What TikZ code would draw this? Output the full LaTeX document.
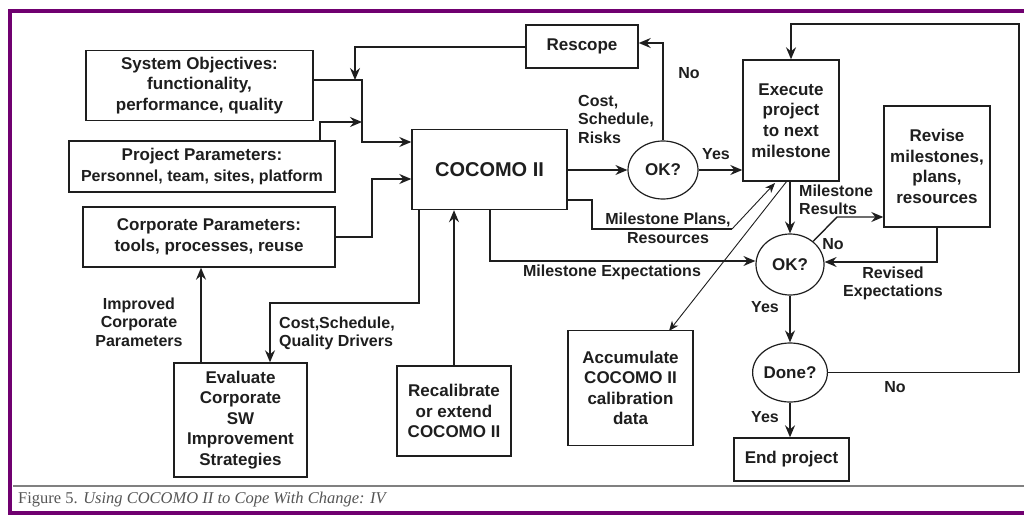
\documentclass[tikz,border=0pt]{standalone}
\usepackage{fontspec}
\setmainfont{Liberation Sans}
\newfontfamily\capfont{Liberation Serif}
\usetikzlibrary{arrows.meta,shapes.geometric}
\definecolor{frameclr}{RGB}{112,0,112}
\definecolor{ink}{RGB}{30,30,30}
\definecolor{capclr}{RGB}{85,85,85}
\begin{document}
\begin{tikzpicture}[x=1pt,y=-1pt,
  box/.style={draw=ink,line width=1.4pt,rectangle,inner sep=0pt,align=center,
    font=\fontsize{17}{20.6}\selectfont\bfseries,text=ink},
  oval/.style={draw=ink,line width=1.2pt,ellipse,inner sep=0pt,
    font=\fontsize{17}{20.6}\selectfont\bfseries,text=ink},
  wire/.style={draw=ink,line width=1.4pt},
  arr/.style={wire,-{Stealth[length=12pt,width=10pt,inset=4pt]}},
  thinarr/.style={draw=ink,line width=0.9pt,-{Stealth[length=10pt,width=8pt,inset=3pt]}},
  lab/.style={font=\fontsize{16}{18.5}\selectfont\bfseries,text=ink,inner sep=0pt}
]
\useasboundingbox (0,0) rectangle (1024,516);
% frame
\draw[frameclr,line width=4pt] (1030,11) -- (10,11) -- (10,513) -- (1030,513);
\draw[gray,line width=2pt] (13,486) -- (1024,486);
\node[anchor=base west,inner sep=0pt,text=capclr,font=\capfont\fontsize{16.5}{19}\selectfont] (cap) at (18,503)
  {Figure 5. \itshape Using COCOMO II to Cope With Change: IV};

% nodes
\node[box,minimum width=227pt,minimum height=70pt] (sysobj) at (199.5,85.5)
  {System Objectives:\\functionality,\\performance, quality};
\node[box,minimum width=266pt,minimum height=51pt] (projpar) at (202,166.5)
  {Project Parameters:\\{\fontsize{16}{20.6}\selectfont Personnel, team, sites, platform}};
\node[box,minimum width=252pt,minimum height=60pt] (corppar) at (209,237)
  {Corporate Parameters:\\tools, processes, reuse};
\node[box,minimum width=155pt,minimum height=80pt,font=\fontsize{20}{24}\selectfont\bfseries] (cocomo) at (489.5,169.5)
  {COCOMO II};
\node[box,minimum width=112pt,minimum height=43pt] (rescope) at (582,46.5) {Rescope};
\node[oval,minimum width=70pt,minimum height=58pt] (ok1) at (663,170) {OK?};
\node[box,minimum width=96pt,minimum height=121pt] (exec) at (791,120.5)
  {Execute\\project\\to next\\milestone};
\node[box,minimum width=106pt,minimum height=121pt] (revise) at (937,166.5)
  {Revise\\milestones,\\plans,\\resources};
\node[oval,minimum width=68pt,minimum height=61pt] (ok2) at (790,264.5) {OK?};
\node[oval,minimum width=68pt,minimum height=59pt] (done) at (790,372.5) {Done?};
\node[box,minimum width=115pt,minimum height=43pt] (endp) at (791.5,459.5) {End project};
\node[box,minimum width=125pt,minimum height=115pt] (accum) at (630.5,388)
  {Accumulate\\COCOMO II\\calibration\\data};
\node[box,minimum width=133pt,minimum height=114pt] (evalb) at (240.5,420)
  {Evaluate\\Corporate\\SW\\Improvement\\Strategies};
\node[box,minimum width=114pt,minimum height=90pt] (recal) at (454,411)
  {Recalibrate\\or extend\\COCOMO II};

% junction coordinates
\coordinate (jR) at (355,47);
\coordinate (jRend) at (355,80);
\coordinate (jA) at (362,80);
\coordinate (jB) at (362,142);
\coordinate (jP) at (320,122);
\coordinate (jC1) at (372,237);
\coordinate (jC2) at (372,179);
\coordinate (jD1) at (419,303);
\coordinate (jD2) at (270,303);
\coordinate (jE) at (201,320);
\coordinate (jM) at (490,261);
\coordinate (jN) at (664,43);
\coordinate (jL1) at (592,200);
\coordinate (jL2) at (592,229);
\coordinate (jL3) at (732,229);
\coordinate (jL4) at (775,183);
\coordinate (jX) at (787,181);
\coordinate (jY) at (669,331);
\coordinate (jV) at (837,217);
\coordinate (jW) at (937,262);
\coordinate (jT1) at (1019,372.5);
\coordinate (jT2) at (1019,24);

% connectors
\draw[arr] (rescope.west |- jR) -- (jR) -- (jRend);
\draw[arr] (sysobj.east |- jA) -- (jA) -- (jB) -- (jB -| cocomo.west);
\draw[arr] (projpar.north -| jP) -- (jP) -- (jP -| jA);
\draw[arr] (corppar.east |- jC1) -- (jC1) -- (jC2) -- (jC2 -| cocomo.west);
\draw[arr] (cocomo.south -| jD1) -- (jD1) -- (jD2) -- (jD2 |- evalb.north);
\draw[arr] (recal.north) -- (recal.north |- cocomo.south);
\draw[arr] (evalb.north -| jE) -- (jE |- corppar.south);
\draw[arr] (cocomo.south -| jM) -- (jM) -- (jM -| ok2.west);
\draw[arr] (cocomo.east |- ok1.west) -- (ok1.west);
\draw[arr] (ok1.north) -- (ok1.north |- jN) -- (rescope.east |- jN);
\draw[arr] (ok1.east) -- (ok1.east -| exec.west);
\draw[wire] (cocomo.east |- jL1) -- (jL1) -- (jL2) -- (jL3);
\draw[thinarr] (jL3) -- (jL4);
\draw[thinarr] (jX) -- (jY);
\draw[arr] (exec.south -| ok2.north) -- (ok2.north);
\draw[arr] (ok2.45) -- (jV) -- (jV -| revise.west);
\draw[arr] (revise.south) -- (jW) -- (jW -| ok2.east);
\draw[arr] (ok2.south) -- (done.north);
\draw[arr] (done.south) -- (done.south |- endp.north);
\draw[arr] (done.east) -- (jT1) -- (jT2) -- (jT2 -| exec.north) -- (exec.north);

% labels
\node[lab,align=left,anchor=north west] (lCost) at (578,95) {Cost,\\Schedule,\\Risks};
\node[lab] (lNo1) at (689,73) {No};
\node[lab] (lYes1) at (716,154) {Yes};
\node[lab,align=center] (lPlans) at (668,228.5) {Milestone Plans,\\Resources};
\node[lab] (lExp) at (612,272) {Milestone Expectations};
\node[lab,align=left,anchor=west] (lRes) at (799,200) {Milestone\\Results};
\node[lab] (lNo2) at (833,244) {No};
\node[lab,align=center] (lRev) at (893,283.5) {Revised\\Expectations};
\node[lab] (lYes2) at (765,307) {Yes};
\node[lab] (lNo3) at (895,387) {No};
\node[lab] (lYes3) at (765,417) {Yes};
\node[lab,align=center] (lImp) at (139,322) {Improved\\Corporate\\Parameters};
\node[lab,align=left,anchor=west] (lDrv) at (279,333.5) {Cost,Schedule,\\Quality Drivers};
\end{tikzpicture}
\end{document}
